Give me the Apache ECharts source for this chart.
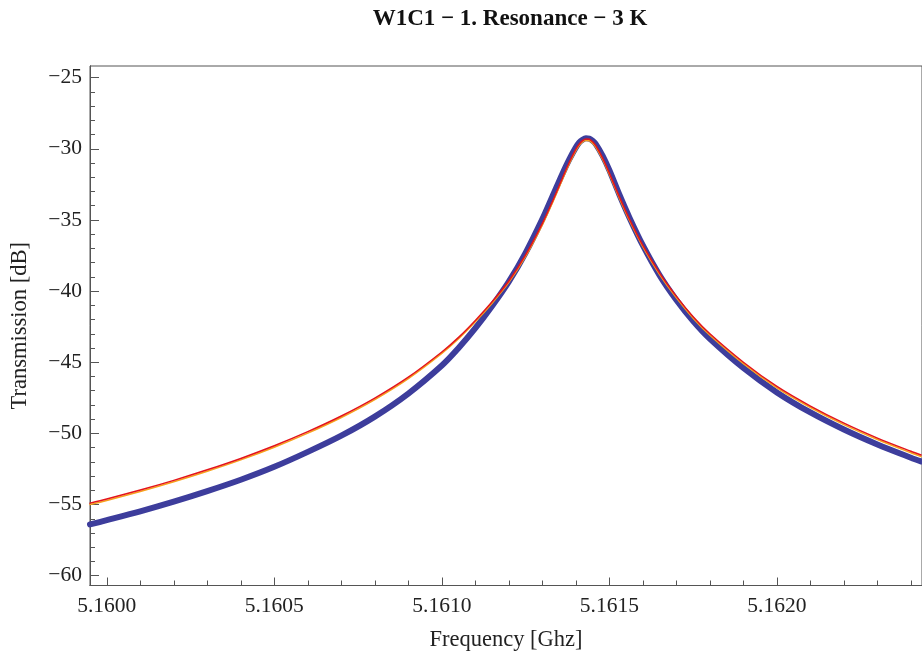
<!DOCTYPE html>
<html>
<head>
<meta charset="utf-8">
<script src="https://cdn.jsdelivr.net/npm/echarts@6/dist/echarts.min.js"></script>
<style>html,body{margin:0;padding:0;background:#fff}#c{width:922px;height:659px}</style>
</head>
<body>
<div id="c"></div>
<script>
// Frequency samples (GHz)
const freq = [5.15995, 5.1600, 5.1601, 5.1602, 5.1603, 5.1604, 5.1605, 5.1606, 5.1607, 5.1608, 5.1609,
  5.1610, 5.16105, 5.1611, 5.16115, 5.1612, 5.16125, 5.1613, 5.16133, 5.16136, 5.16138, 5.1614,
  5.16141, 5.16142, 5.16143, 5.16144, 5.16145, 5.16146, 5.16148, 5.1615, 5.16153, 5.16156, 5.1616,
  5.16165, 5.1617, 5.16175, 5.1618, 5.1619, 5.1620, 5.1621, 5.1622, 5.1623, 5.1624, 5.16243];
// Measured transmission (dB), blue points
const measured = [-56.40, -56.10, -55.48, -54.80, -54.06, -53.26, -52.35, -51.30, -50.16, -48.82, -47.20,
  -45.23, -44.00, -42.61, -41.05, -39.34, -37.31, -34.94, -33.35, -31.75, -30.76, -29.90,
  -29.56, -29.36, -29.26, -29.28, -29.44, -29.69, -30.50, -31.51, -33.23, -34.84, -36.79,
  -38.89, -40.62, -42.10, -43.35, -45.40, -47.12, -48.53, -49.73, -50.78, -51.71, -51.97];
// Fit curve (red)
const fitRed = [-54.90, -54.61, -53.98, -53.30, -52.56, -51.76, -50.87, -49.88, -48.78, -47.52, -46.05,
  -44.28, -43.25, -42.06, -40.75, -39.29, -37.46, -35.24, -33.70, -32.05, -30.96, -30.02,
  -29.66, -29.42, -29.31, -29.33, -29.50, -29.79, -30.65, -31.71, -33.38, -34.94, -36.79,
  -38.74, -40.37, -41.80, -43.00, -45.00, -46.70, -48.08, -49.28, -50.33, -51.26, -51.52];
// Fit curve (orange)
const fitOrange = [-55.00, -54.71, -54.08, -53.40, -52.66, -51.86, -50.97, -49.98, -48.88, -47.62, -46.15,
  -44.38, -43.35, -42.16, -40.85, -39.39, -37.56, -35.34, -33.80, -32.15, -31.06, -30.12,
  -29.76, -29.52, -29.41, -29.43, -29.60, -29.89, -30.75, -31.81, -33.48, -35.04, -36.89,
  -38.84, -40.47, -41.90, -43.10, -45.10, -46.80, -48.18, -49.38, -50.43, -51.36, -51.62];

// Tick values
const xMajorTicks = [5.1600, 5.1605, 5.1610, 5.1615, 5.1620];
const xMinorTicks = [5.1601, 5.1602, 5.1603, 5.1604, 5.1606, 5.1607, 5.1608, 5.1609, 5.1611, 5.1612,
  5.1613, 5.1614, 5.1616, 5.1617, 5.1618, 5.1619, 5.1621, 5.1622, 5.1623, 5.1624];
const yMajorTicks = [-60, -55, -50, -45, -40, -35, -30, -25];
const yMinorTicks = [-59, -58, -57, -56, -54, -53, -52, -51, -49, -48, -47, -46, -44, -43, -42, -41,
  -39, -38, -37, -36, -34, -33, -32, -31, -29, -28, -27, -26];

const titleText = 'W1C1 \u2212 1. Resonance \u2212 3 K';
const xName = 'Frequency [Ghz]';
const yName = 'Transmission [dB]';

const FONT = 'Liberation Serif';
const AX = '#555';
const X_MIN = 5.15995, X_MAX = 5.162433, Y_MIN = -60.69, Y_MAX = -24.18;

const zip = (a, b) => a.map((v, i) => [v, b[i]]);

const baseX = {
  type: 'value', min: X_MIN, max: X_MAX, position: 'bottom',
  splitLine: { show: false },
  axisLine: { show: true, lineStyle: { color: AX, width: 1 } }
};
const baseY = {
  type: 'value', min: Y_MIN, max: Y_MAX, position: 'left',
  splitLine: { show: false },
  axisLine: { show: true, lineStyle: { color: AX, width: 1 } }
};

const lineSeries = (name, data, color, width, z) => ({
  name, type: 'line', data, smooth: 0.3, showSymbol: false,
  lineStyle: { color, width, cap: 'round', join: 'round' }, z
});

const chart = echarts.init(document.getElementById('c'), null, { renderer: 'canvas' });
chart.setOption({
  animation: false,
  backgroundColor: '#fff',
  title: {
    text: titleText, left: 505, top: 3, textAlign: 'center',
    textStyle: { fontFamily: FONT, fontWeight: 'bold', fontSize: 23, color: '#111' }
  },
  grid: { left: 90, top: 66, right: -2, bottom: 73.5, show: true, borderColor: AX, borderWidth: 1 },
  xAxis: [
    Object.assign({}, baseX, {
      name: xName, nameLocation: 'middle', nameGap: 43,
      nameTextStyle: { fontFamily: FONT, fontSize: 22.5, color: '#222' },
      axisTick: { show: true, inside: true, length: 8, customValues: xMajorTicks, lineStyle: { color: AX } },
      axisLabel: { show: true, customValues: xMajorTicks, margin: 10, fontFamily: FONT, fontSize: 21.5, color: '#222',
        formatter: v => v.toFixed(4) }
    }),
    Object.assign({}, baseX, {
      axisTick: { show: true, inside: true, length: 5, customValues: xMinorTicks, lineStyle: { color: AX } },
      axisLabel: { show: false }
    })
  ],
  yAxis: [
    Object.assign({}, baseY, {
      name: yName, nameLocation: 'middle', nameGap: 58, nameRotate: 90,
      nameTextStyle: { fontFamily: FONT, fontSize: 22.5, color: '#222' },
      axisTick: { show: true, inside: true, length: 9, customValues: yMajorTicks, lineStyle: { color: AX } },
      axisLabel: { show: true, customValues: yMajorTicks, margin: 8, fontFamily: FONT, fontSize: 21.5, color: '#222',
        formatter: v => String(v).replace('-', '\u2212') }
    }),
    Object.assign({}, baseY, {
      axisTick: { show: true, inside: true, length: 5, customValues: yMinorTicks, lineStyle: { color: AX } },
      axisLabel: { show: false }
    })
  ],
  series: [
    lineSeries('measured', zip(freq, measured), '#3d3d9c', 6, 2),
    lineSeries('fit2', zip(freq, fitOrange), '#f7a21b', 1.5, 3),
    lineSeries('fit1', zip(freq, fitRed), '#e3141c', 1.5, 4)
  ]
});
</script>
</body>
</html>
